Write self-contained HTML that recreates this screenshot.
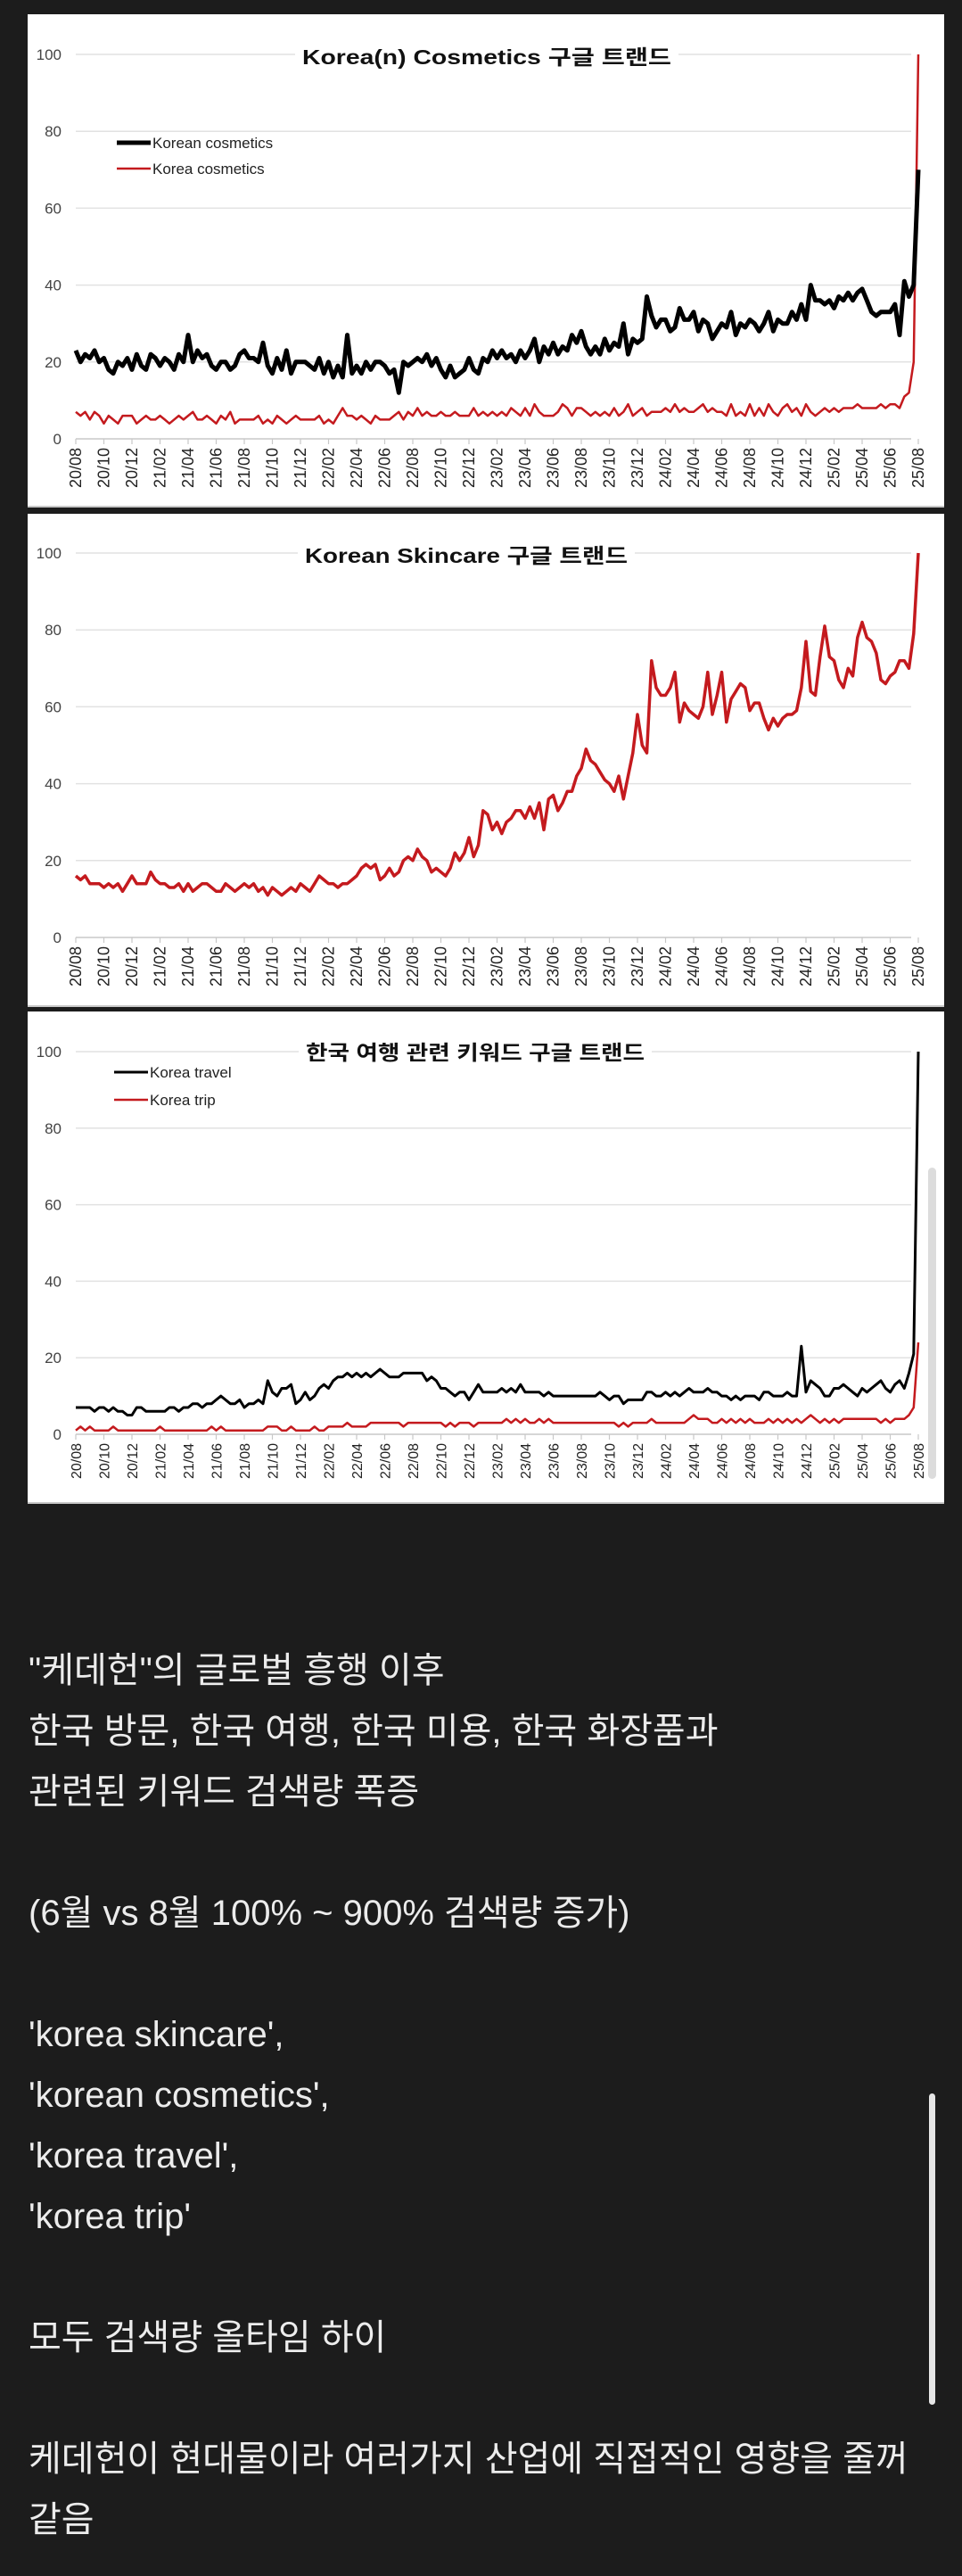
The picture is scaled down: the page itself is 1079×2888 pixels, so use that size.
<!DOCTYPE html>
<html><head><meta charset="utf-8">
<style>
html,body{margin:0;padding:0;}
body{width:1079px;height:2888px;background:#1c1c1c;position:relative;overflow:hidden;font-family:"Liberation Sans","Noto Sans CJK KR",sans-serif;}
.panel{position:absolute;left:31px;width:1028px;background:#fff;border-bottom:2px solid #c8c8c8;}
#txt{position:absolute;left:32px;top:1839px;width:1045px;color:#ececec;font-size:40px;line-height:68px;font-family:"Liberation Sans","Noto Sans CJK KR",sans-serif;white-space:nowrap;}
.sb{position:absolute;border-radius:5px;}
</style></head>
<body>
<div class="panel" style="top:16px;height:551px;"></div>
<div class="panel" style="top:576px;height:551px;"></div>
<div class="panel" style="top:1134px;height:550px;"></div>
<svg id="chart" width="1079" height="1700" style="position:absolute;left:0;top:0;"></svg>
<div class="sb" style="left:1041px;top:1309px;width:9px;height:349px;background:#dcdcdc;"></div>
<div class="sb" style="left:1042px;top:2347px;width:7px;height:349px;background:#e6e6e6;"></div>
<div id="txt">"케데헌"의 글로벌 흥행 이후<br>한국 방문, 한국 여행, 한국 미용, 한국 화장품과<br>관련된 키워드 검색량 폭증<br><br>(6월 vs 8월 100% ~ 900% 검색량 증가)<br><br>'korea skincare',<br>'korean cosmetics',<br>'korea travel',<br>'korea trip'<br><br>모두 검색량 올타임 하이<br><br>케데헌이 현대물이라 여러가지 산업에 직접적인 영향을 줄꺼<br>같음</div>
<script>
const xTicks=["20/08","20/10","20/12","21/02","21/04","21/06","21/08","21/10","21/12","22/02","22/04","22/06","22/08","22/10","22/12","23/02","23/04","23/06","23/08","23/10","23/12","24/02","24/04","24/06","24/08","24/10","24/12","25/02","25/04","25/06","25/08"];
const yTicks=[0,20,40,60,80,100];
const koreanCosmetics=[23,20,22,21,23,20, 21,18,17,20,19,21, 18,22,19,18,22,21, 19,21,20,18,22,20, 27,20,23,21,22,19, 18,20,20,18,19,22, 23,21,21,20,25,19, 17,21,18,23,17,20, 20,20,19,18,21,17, 20,16,19,16,27,17, 19,17,20,18,20,20, 19,17,18,12,20,19, 20,21,20,22,19,21, 18,16,19,16,17,18, 21,18,17,21,20,23, 21,23,21,22,20,23, 21,23,26,20,24,22, 25,22,24,23,27,25, 28,24,22,24,22,26, 23,25,24,30,22,26, 25,26,37,32,29,31, 31,28,29,34,31,31, 33,28,31,30,26,28, 30,29,33,27,30,29, 31,30,28,30,33,28, 31,30,30,33,31,35, 31,40,36,36,35,36, 34,37,36,38,36,38, 39,36,33,32,33,33, 33,35,27,41,37,40, 70];
const koreaCosmetics=[7,6,7,5,7,6, 4,6,5,4,6,6, 6,4,5,6,5,5, 6,5,4,5,6,5, 6,7,5,5,6,5, 4,6,5,7,4,5, 5,5,5,6,4,5, 4,6,5,4,5,6, 5,5,5,5,6,4, 5,4,6,8,6,6, 5,6,5,4,6,5, 5,5,6,7,5,7, 6,8,6,7,6,6, 7,6,6,7,6,6, 6,8,6,7,6,7, 6,7,6,8,7,6, 8,6,9,7,6,6, 6,7,9,8,6,8, 8,7,6,7,6,7, 6,8,6,7,9,6, 7,8,6,7,7,7, 8,7,9,7,8,7, 7,8,9,7,8,7, 7,6,9,6,7,6, 9,6,8,6,9,7, 6,8,9,7,8,6, 9,7,6,7,8,7, 8,7,8,8,8,9, 8,8,8,8,9,8, 9,9,8,11,12,20, 100];
const koreanSkincare=[16,15,16,14,14,14, 13,14,13,14,12,14, 16,14,14,14,17,15, 14,14,13,13,14,12, 14,12,13,14,14,13, 12,12,14,13,12,13, 14,13,14,12,13,11, 13,12,11,12,13,12, 14,13,12,14,16,15, 14,14,13,14,14,15, 16,18,19,18,19,15, 16,18,16,17,20,21, 20,23,21,20,17,18, 17,16,18,22,20,22, 26,21,24,33,32,28, 30,27,30,31,33,33, 31,34,31,35,28,36, 37,33,35,38,38,42, 44,49,46,45,43,41, 40,38,42,36,42,48, 58,50,48,72,65,63, 63,65,69,56,61,59, 58,57,60,69,58,63, 69,56,62,64,66,65, 59,61,61,57,54,57, 55,57,58,58,59,65, 77,64,63,73,81,73, 72,67,65,70,68,78, 82,78,77,74,67,66, 68,69,72,72,70,79, 100];
const koreaTravel=[7,7,7,7,6,7, 7,6,7,6,6,5, 5,7,7,6,6,6, 6,6,7,7,6,7, 7,8,8,7,8,8, 9,10,9,8,8,9, 7,8,8,9,8,14, 11,10,12,12,13,8, 9,11,9,10,12,13, 12,14,15,15,16,15, 16,15,16,15,16,17, 16,15,15,15,16,16, 16,16,16,14,15,14, 12,12,11,10,11,11, 9,11,13,11,11,11, 11,12,11,12,11,13, 11,11,11,11,10,11, 10,10,10,10,10,10, 10,10,10,10,11,10, 9,10,10,8,9,9, 9,9,11,11,10,10, 11,10,11,10,11,12, 11,11,11,12,11,11, 10,10,9,10,9,10, 10,10,9,11,11,10, 10,10,11,10,10,23, 11,14,13,12,10,10, 12,12,13,12,11,10, 12,11,12,13,14,12, 11,13,14,12,16,21, 100];
const koreaTrip=[1,2,1,2,1,1, 1,1,2,1,1,1, 1,1,1,1,1,1, 2,1,1,1,1,1, 1,1,1,1,1,2, 1,2,1,1,1,1, 1,1,1,1,1,2, 2,2,1,1,2,1, 1,1,1,2,1,1, 2,2,2,2,3,2, 2,2,2,3,3,3, 3,3,3,3,2,3, 3,3,3,3,3,3, 3,2,3,2,3,3, 3,2,3,3,3,3, 3,3,4,3,4,3, 4,3,3,4,3,4, 3,3,3,3,3,3, 3,3,3,3,3,3, 3,3,2,3,2,3, 3,3,3,4,3,3, 3,3,3,3,3,4, 5,4,4,4,3,3, 4,3,4,3,4,3, 4,3,3,3,4,3, 4,3,4,3,4,3, 4,5,4,3,4,3, 4,3,4,4,4,4, 4,4,4,4,3,4, 3,4,4,4,5,7, 24];

const NS="http://www.w3.org/2000/svg";
const svg=document.getElementById("chart");
function mk(tag,attrs,parent){const e=document.createElementNS(NS,tag);for(const k in attrs)e.setAttribute(k,attrs[k]);(parent||svg).appendChild(e);return e;}

function drawChart(cfg){
  const g=mk("g",{});
  
  
  const x0=85,x1=1030;
  const yS=v=>cfg.y0+(cfg.y100-cfg.y0)*v/100;
  const xS=f=>x0+(x1-x0)*f;
  yTicks.forEach(t=>{
    const ln=mk("line",{x1:x0,x2:1022,y1:yS(t),y2:yS(t),stroke:t===0?"#c8c8c8":"#e2e2e2","stroke-width":1.5},g);
    
    
    const tx=mk("text",{x:69,y:yS(t)+6,"text-anchor":"end","font-size":17,fill:"#444"},g);
    tx.textContent=t;
    
    
  });
  xTicks.forEach((t,i)=>{
    const x=xS(i/(xTicks.length-1));
    const tk=mk("line",{x1:x,x2:x,y1:cfg.y0,y2:cfg.y0+6,stroke:"#c8c8c8","stroke-width":1.2},g);
    
    
    const tx=mk("text",{x:0,y:0,"text-anchor":"end","font-size":cfg.tickFont,fill:"#222",transform:`translate(${x+6},${cfg.y0+10}) rotate(-90)`},g);
    tx.textContent=t;
    
    
  });
  cfg.series.forEach(s=>{
    const n=s.data.length;
    const pts=s.data.map((v,i)=>xS(i/(n-1)).toFixed(1)+","+yS(v).toFixed(1)).join(" ");
    const pl=mk("polyline",{points:pts,fill:"none",stroke:s.color,"stroke-width":s.w,"stroke-linejoin":"round"},g);
    
    
  });
  const tw=cfg.titleW;
  const bg=mk("rect",{x:cfg.titleX-tw/2-8,y:cfg.titleY-18,width:tw+16,height:34,fill:"#fff"},g);
  
  
  const tt=mk("text",{x:cfg.titleX,y:cfg.titleY+8,"text-anchor":"middle","font-size":23,"font-weight":"bold",fill:"#111",textLength:tw,lengthAdjust:"spacingAndGlyphs"},g);
  tt.textContent=cfg.title;
  
  
  (cfg.legend||[]).forEach(l=>{
    const ll=mk("line",{x1:l.x,x2:l.x+38,y1:l.y,y2:l.y,stroke:l.color,"stroke-width":l.w},g);
    
    
    const lt=mk("text",{x:l.x+40,y:l.y+6,"font-size":17,fill:"#222"},g);
    lt.textContent=l.label;
    
    
  });
}

drawChart({name:"cosmetics-chart",y0:492,y100:61,tickFont:18,title:"Korea(n) Cosmetics 구글 트랜드",titleX:546,titleY:64,titleW:414,
  series:[{name:"korea-cosmetics-line",data:koreaCosmetics,color:"#c41a1e",w:2.5},{name:"korean-cosmetics-line",data:koreanCosmetics,color:"#000",w:5}],
  legend:[{x:131,y:160,color:"#000",w:5,label:"Korean cosmetics"},{x:131,y:189,color:"#c41a1e",w:2.5,label:"Korea cosmetics"}]});
drawChart({name:"skincare-chart",y0:1051,y100:620,tickFont:18,title:"Korean Skincare 구글 트랜드",titleX:523,titleY:623,titleW:362,
  series:[{name:"korean-skincare-line",data:koreanSkincare,color:"#c41a1e",w:3.5}]});
drawChart({name:"travel-chart",y0:1608,y100:1179,tickFont:16,title:"한국 여행 관련 키워드 구글 트랜드",titleX:533,titleY:1180,titleW:380,
  series:[{name:"korea-trip-line",data:koreaTrip,color:"#c41a1e",w:2.5},{name:"korea-travel-line",data:koreaTravel,color:"#000",w:3}],
  legend:[{x:128,y:1202,color:"#000",w:3,label:"Korea travel"},{x:128,y:1233,color:"#c41a1e",w:2.5,label:"Korea trip"}]});
</script>
</body></html>
